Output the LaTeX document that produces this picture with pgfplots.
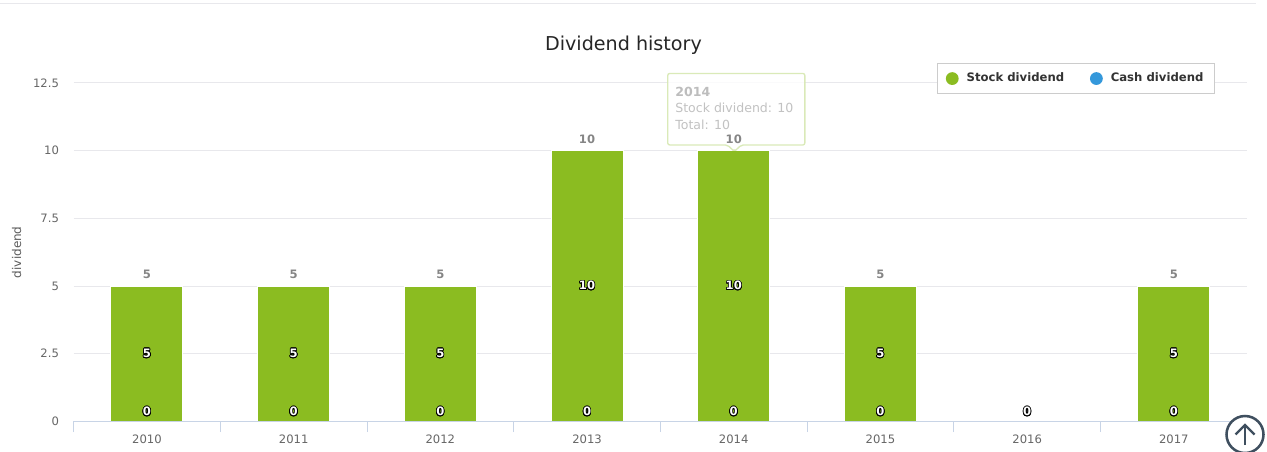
\documentclass[border=0pt]{standalone}
\usepackage{fontspec}
\setmainfont{DejaVu Sans}
\usepackage{pgfplots}
\pgfplotsset{compat=1.18}
\usepackage{contour}
\contourlength{0.55pt}
\contournumber{16}
\definecolor{stockc}{HTML}{8BBC21}
\definecolor{cashc}{HTML}{3498DB}
\definecolor{gridc}{HTML}{E8E8EC}
\definecolor{axisc}{HTML}{C8D4E6}
\definecolor{tickt}{HTML}{666666}
\definecolor{totc}{HTML}{858585}
\definecolor{arrowc}{HTML}{3F4F5F}
\begin{document}
\begin{tikzpicture}
\path[use as bounding box] (0pt,0pt) rectangle (950.25pt,-338.25pt);
\clip (0pt,0pt) rectangle (950.25pt,-338.25pt);
\draw[color=gridc,line width=0.75pt] (0pt,-2.6pt) -- (942pt,-2.6pt);
\begin{axis}[
  at={(55.2pt,-316.1pt)}, anchor=south west,
  scale only axis, width=880.2pt, height=253.9pt,
  xmin=-0.5, xmax=7.5, ymin=0, ymax=12.5,
  clip=false,
  axis x line*=bottom, axis y line*=left,
  x axis line style={draw=none,-},
  y axis line style={draw=none,-},
  ytick={0,2.5,5,7.5,10,12.5},
  xtick={0,1,2,3,4,5,6,7},
  xticklabels={2010,2011,2012,2013,2014,2015,2016,2017},
  minor xtick={-0.5,0.5,1.5,2.5,3.5,4.5,5.5,6.5,7.5},
  major tick length=0pt,
  minor tick length=8pt,
  every minor tick/.style={draw=axisc,line width=0.75pt},
  tick align=outside,
  ymajorgrids, grid style={draw=gridc,line width=0.75pt},
  /pgf/number format/assume math mode=true,
  tick label style={font=\fontsize{8.7pt}{10pt}\selectfont,text=tickt},
  y tick label style={xshift=-7.5pt},
  x tick label style={yshift=-6.2pt},
  title={Dividend history},
  title style={at={(axis description cs:0.4685,1.0872)},anchor=center,font=\fontsize{14.35pt}{16pt}\selectfont,text=black!85},
  ylabel={dividend},
  ylabel style={at={(axis description cs:-0.0485,0.5)},anchor=center,rotate=0,font=\fontsize{9pt}{10pt}\selectfont,text=tickt!90!black},
  legend columns=2,
  legend style={at={(axis description cs:0.736,1.0600)},anchor=north west,
    draw=black!20,line width=0.75pt,fill=white,font=\bfseries\fontsize{8.75pt}{10pt}\selectfont,text=black!80,
    /tikz/every even column/.append style={column sep=17.3pt},
    inner xsep=6pt,inner ysep=5.5pt},
]
\addplot[ybar,bar width=54pt,bar shift=0pt,fill=stockc,draw=white,line width=0.75pt,
  skip coords between index={6}{7},
  legend image code/.code={\fill[stockc,draw=none] (0,0) circle (4.8pt); \path[draw=none,fill=none] (0,0) -- (8.8pt,0);}]
  coordinates {(0,5)(1,5)(2,5)(3,10)(4,10)(5,5)(6,0)(7,5)};
\addlegendentry{Stock dividend}
\addplot[ybar,bar width=54pt,bar shift=0pt,fill=none,draw=none,
  legend image code/.code={\fill[cashc,draw=none] (0,0) circle (4.8pt); \path[draw=none,fill=none] (0,0) -- (8.8pt,0);}]
  coordinates {(0,0)(1,0)(2,0)(3,0)(4,0)(5,0)(6,0)(7,0)};
\addlegendentry{Cash dividend}
% axis line over the bars
\draw[draw=axisc,line width=0.75pt] (axis cs:-0.5,0) -- (axis cs:7.5,0);
% labels inside the bars
\addplot[forget plot,draw=none,mark=none,
  nodes near coords={\contour{black}{\textcolor{white}{\pgfmathprintnumber{\pgfplotspointmeta}}}},
  point meta=explicit,
  every node near coord/.append style={font=\bfseries\fontsize{8.7pt}{10pt}\selectfont,anchor=center}]
  coordinates {(0,2.5)[5](1,2.5)[5](2,2.5)[5](3,5)[10](4,5)[10](5,2.5)[5](7,2.5)[5]};
\addplot[forget plot,draw=none,mark=none,
  nodes near coords={\contour{black}{\textcolor{white}{\pgfmathprintnumber{\pgfplotspointmeta}}}},
  point meta=explicit,
  every node near coord/.append style={font=\bfseries\fontsize{8.7pt}{10pt}\selectfont,anchor=center,yshift=7.2pt}]
  coordinates {(0,0)[0](1,0)[0](2,0)[0](3,0)[0](4,0)[0](5,0)[0](6,0)[0](7,0)[0]};
% tooltip, under the total label of 2014
\fill[white,fill opacity=0.8,draw=stockc!35!white,draw opacity=0.9,line width=1pt,rounded corners=1.5pt]
  (axis cs:3.55,12.85) -- (axis cs:4.4847,12.85) -- (axis cs:4.4847,10.21) -- (axis cs:4.052,10.21)
  -- (axis cs:4.0043,9.97) -- (axis cs:3.9566,10.21) -- (axis cs:3.55,10.21) -- cycle;
\node[anchor=west,font=\bfseries\fontsize{9.4pt}{11pt}\selectfont,text=black!26,inner sep=0pt] at (axis cs:3.6,12.186) {2014};
\node[anchor=west,font=\fontsize{9.4pt}{11pt}\selectfont,text=black!24,inner sep=0pt] at (axis cs:3.6,11.577) {Stock dividend: 10};
\node[anchor=west,font=\fontsize{9.4pt}{11pt}\selectfont,text=black!24,inner sep=0pt] at (axis cs:3.6,10.967) {Total: 10};
% totals above the bars
\addplot[forget plot,draw=none,mark=none,
  nodes near coords={\pgfmathprintnumber{\pgfplotspointmeta}},
  point meta=explicit,
  every node near coord/.append style={font=\bfseries\fontsize{8.7pt}{10pt}\selectfont,text=totc,anchor=center,yshift=8.8pt}]
  coordinates {(0,5)[5](1,5)[5](2,5)[5](3,10)[10](4,10)[10](5,5)[5](7,5)[5]};
\end{axis}
\begin{scope}[x=0.75pt,y=-0.75pt]
% back-to-top button
\draw[arrowc,line width=1.9pt,fill=white] (1245,434.5) circle (18.5);
\draw[arrowc,line width=1.7pt] (1245,445) -- (1245,425);
\draw[arrowc,line width=1.7pt] (1235.5,434.5) -- (1245,425) -- (1254.5,434.5);
\end{scope}
\end{tikzpicture}
\end{document}
